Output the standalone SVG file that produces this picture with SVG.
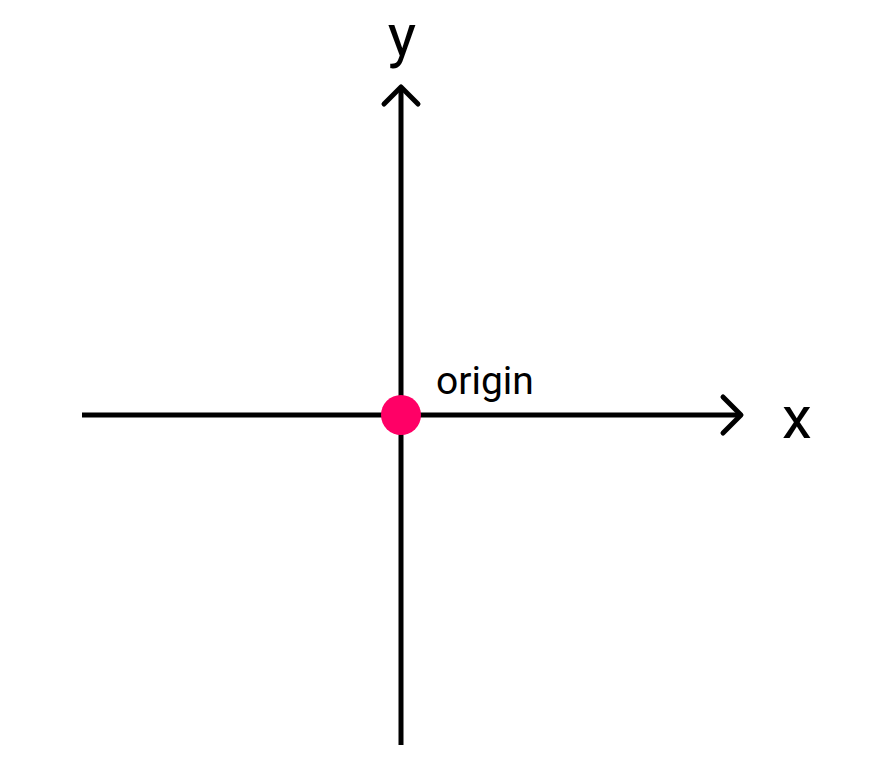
<svg xmlns="http://www.w3.org/2000/svg" width="874" height="784" viewBox="0 0 874 784">
<style>
.ax{stroke:#000;stroke-width:5;fill:none;stroke-linecap:butt}
.hd{stroke:#000;stroke-width:5;fill:none;stroke-linecap:round;stroke-linejoin:round}
.lbl{font-family:Roboto,"Liberation Sans",sans-serif;fill:#000}
</style>
<rect width="874" height="784" fill="#fff"/>
<g id="connectors">
<line class="ax" x1="82" y1="415" x2="741" y2="415"/>
<polyline class="hd" points="723,397 741,415 723,433"/>
<line class="ax" x1="401" y1="745" x2="401" y2="87"/>
<polyline class="hd" points="384,104 401,87 418,104"/>
</g>
<g id="origin">
<circle cx="401" cy="415" r="20" fill="#ff0066"/>
<text class="lbl" x="436" y="394" font-size="39">origin</text>
</g>
<g id="x-label"><text class="lbl" x="782" y="438" font-size="60">x</text></g>
<g id="y-label"><text class="lbl" x="402" y="56" font-size="60" text-anchor="middle">y</text></g>
</svg>
